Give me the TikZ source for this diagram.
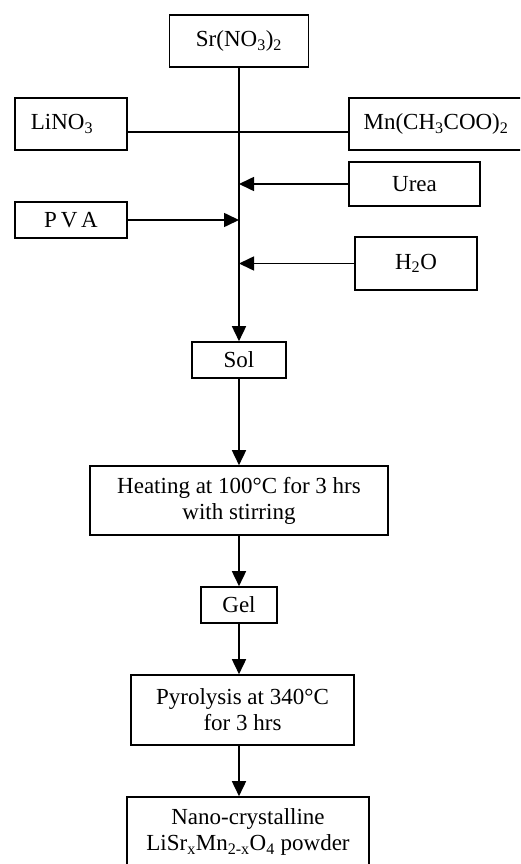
\documentclass[tikz,border=0pt]{standalone}
\usepackage{fontspec}
\setmainfont{Liberation Serif}
\usetikzlibrary{arrows.meta}
\newcommand{\chsub}[1]{\textsubscript{#1}}
\tikzset{
  stepbox/.style={draw, line width=1.6pt, inner sep=0pt, align=center},
}
\begin{document}
\begin{tikzpicture}[x=1pt, y=-1pt, >={Triangle[length=15pt,width=14pt]}, line width=1.6pt, font=\fontsize{23}{26}\selectfont]
    \useasboundingbox (0,0) rectangle (520,864);
    \clip (0,0) rectangle (520,864);
    % raw materials
    \node[stepbox, minimum width=139pt, minimum height=52pt] (sr) at (239,41) {Sr(NO\chsub{3})\chsub{2}};
    \node[stepbox, minimum width=112pt, minimum height=52pt] (li) at (71,124) {LiNO\chsub{3}\hspace{18pt}};
    \node[stepbox, minimum width=174pt, minimum height=52pt] (mn) at (436,124) {Mn(CH\chsub{3}COO)\chsub{2}};
    \node[stepbox, minimum width=131pt, minimum height=44pt] (urea) at (414.5,184) {Urea};
    \node[stepbox, minimum width=112pt, minimum height=36pt] (pva) at (71,220) {P\,V\,A};
    \node[stepbox, minimum width=122pt, minimum height=53pt] (water) at (416,263.5) {H\chsub{2}O};
    % process steps
    \node[stepbox, minimum width=94pt, minimum height=36pt] (sol) at (239,360) {Sol};
    \node[stepbox, minimum width=298pt, minimum height=69pt] (heat) at (239,500.5) {Heating at 100°C for 3 hrs\\with stirring};
    \node[stepbox, minimum width=76pt, minimum height=36pt] (gel) at (239,605) {Gel};
    \node[stepbox, minimum width=223pt, minimum height=70pt] (pyro) at (242.5,710) {Pyrolysis at 340°C\\for 3 hrs};
    \node[stepbox, minimum width=242pt, minimum height=70pt] (nano) at (248,832) {Nano-crystalline\\LiSr\chsub{x}Mn\chsub{2-x}O\chsub{4} powder};
    % mixing line
    \coordinate (jn) at (239,132);
    \draw (li.east |- jn) -- (mn.west |- jn);
    \draw[->] (sr.south) -- (sol.north);
    \draw[->] (urea.west) -- (urea.west -| sr.south);
    \draw[->] (pva.east) -- (pva.east -| sr.south);
    \draw[->] (water.west) -- (water.west -| sr.south);
    % processing
    \draw[->] (sol.south) -- (heat.north);
    \draw[->] (heat.south) -- (gel.north);
    \draw[->] (gel.south) -- (gel.south |- pyro.north);
    \draw[->] (pyro.south -| gel.south) -- (gel.south |- nano.north);
\end{tikzpicture}
\end{document}
